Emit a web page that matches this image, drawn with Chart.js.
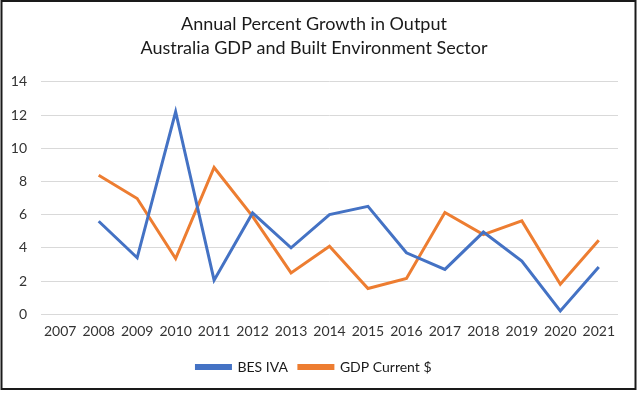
<!DOCTYPE html>
<html>
<head>
<meta charset="utf-8">
<script src="https://cdn.jsdelivr.net/npm/chart.js@4/dist/chart.umd.min.js"></script>
<style>
  html, body { margin: 0; padding: 0; background: #fff; }
  #wrap { position: absolute; left: 0; top: 0; width: 640px; height: 394px; }
</style>
</head>
<body>
<div id="wrap"><canvas id="c" width="640" height="394"></canvas></div>
<script>
const years = ['2007','2008','2009','2010','2011','2012','2013','2014','2015','2016','2017','2018','2019','2020','2021'];
const besIVA = [null, 5.6, 3.4, 12.2, 2.05, 6.1, 4.0, 6.0, 6.5, 3.7, 2.7, 4.95, 3.2, 0.2, 2.85];
const gdpCurrent = [null, 8.37, 6.97, 3.35, 8.84, 5.9, 2.49, 4.1, 1.55, 2.15, 6.13, 4.8, 5.62, 1.8, 4.46];
const titleLines = ['Annual Percent Growth in Output', 'Australia GDP and Built Environment Sector'];
const seriesNames = ['BES IVA', 'GDP Current $'];

const frame = {
  id: 'frame',
  beforeDraw(chart) {
    const ctx = chart.ctx;
    ctx.save();
    ctx.fillStyle = '#fff';
    ctx.fillRect(0, 0, chart.width, chart.height);
    ctx.strokeStyle = '#1a1a1a';
    ctx.lineWidth = 2;
    ctx.strokeRect(1.5, 1, 634, 388);
    ctx.restore();
  }
};

new Chart(document.getElementById('c'), {
  type: 'line',
  data: {
    labels: years,
    datasets: [
      { label: seriesNames[0], data: besIVA, borderColor: '#4472C4', backgroundColor: '#4472C4', borderWidth: 3, pointRadius: 0, tension: 0 },
      { label: seriesNames[1], data: gdpCurrent, borderColor: '#ED7D31', backgroundColor: '#ED7D31', borderWidth: 3, pointRadius: 0, tension: 0 }
    ]
  },
  options: {
    responsive: false,
    animation: false,
    layout: { padding: { left: 10, right: 22, top: 7, bottom: 10 } },
    plugins: {
      title: {
        display: true,
        text: titleLines,
        color: '#1a1a1a',
        font: { family: 'Lato', size: 18, weight: 'normal', lineHeight: 1.33 },
        padding: { top: 5, bottom: 22 }
      },
      legend: {
        position: 'bottom',
        labels: {
          boxWidth: 34,
          boxHeight: 3,
          color: '#1a1a1a',
          font: { family: 'Lato', size: 14 },
          padding: 11
        }
      },
      tooltip: { enabled: false }
    },
    scales: {
      x: {
        offset: true,
        grid: { display: false, drawTicks: false },
        border: { display: false },
        ticks: { color: '#333', font: { family: 'Lato', size: 14 }, padding: 9, maxRotation: 0, autoSkip: false }
      },
      y: {
        min: 0, max: 14,
        grid: { color: '#d9d9d9', lineWidth: 1, drawTicks: false },
        border: { display: false },
        ticks: { stepSize: 2, color: '#333', font: { family: 'Lato', size: 14 }, padding: 14 },
        afterFit(s) { s.width = 31; }
      }
    }
  },
  plugins: [frame]
});
</script>
</body>
</html>
